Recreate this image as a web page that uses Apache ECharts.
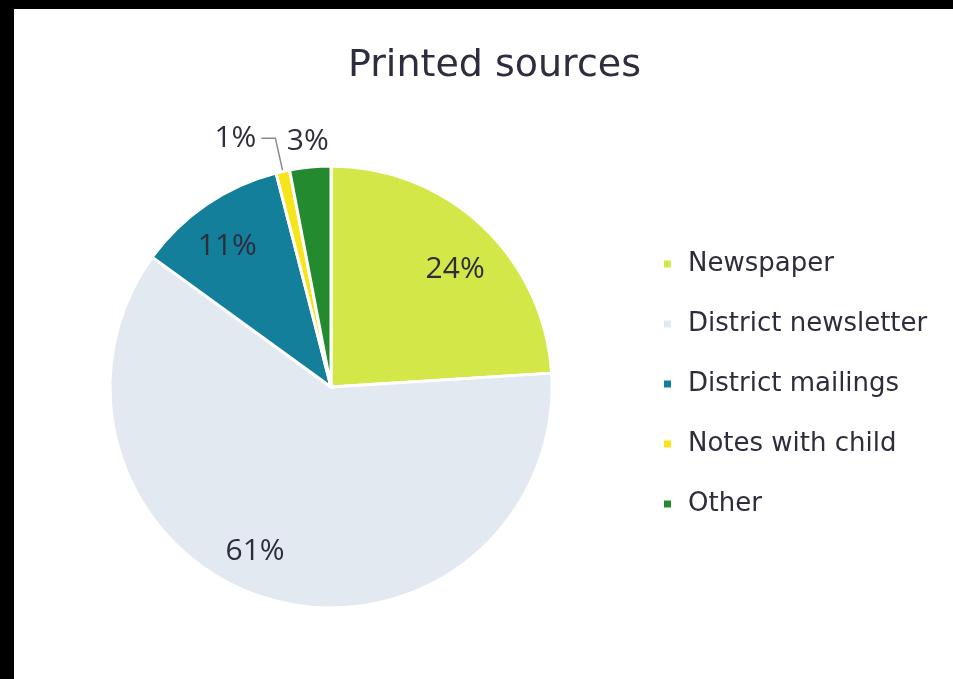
<!DOCTYPE html>
<html>
<head>
<meta charset="utf-8">
<script src="https://cdn.jsdelivr.net/npm/echarts@6/dist/echarts.min.js"></script>
<style>
  html, body { margin:0; padding:0; background:#000; width:953px; height:679px; overflow:hidden; }
  #chart { position:absolute; left:14px; top:9px; width:939px; height:670px; background:#fff; }
</style>
</head>
<body>
<div id="chart"></div>
<script>
// data
const categories = ['Newspaper', 'District newsletter', 'District mailings', 'Notes with child', 'Other']
const shares = [24, 61, 11, 1, 3]
const colors = ['#d4e748', '#e3e9f1', '#137f9b', '#f6e41c', '#238a30']

const textColor = '#2d2d3d'
const font = '"Open Sans", "Noto Sans", sans-serif'
const wideFont = '"DejaVu Sans", sans-serif'
const center = [317, 378]
const R = 221

// nudges for the in-slice labels (Excel puts them slightly off the slice middle)
const innerNudge = [[4, 10], [-27, -4], [-5, 5]]

const chart = echarts.init(document.getElementById('chart'))

function items(fn) {
  return categories.map((name, i) => Object.assign({ name, value: shares[i] }, fn(i)))
}

const option = {
  animation: false,
  backgroundColor: '#fff',
  title: {
    text: 'Printed sources', left: 334, top: 38, padding: 0,
    textStyle: { fontFamily: wideFont, fontSize: 38, fontWeight: 'normal', color: textColor }
  },
  legend: {
    orient: 'vertical', left: 648, top: 240, padding: 0,
    itemWidth: 9, itemHeight: 9, itemGap: 30, icon: 'rect',
    data: categories,
    textStyle: { fontFamily: wideFont, fontSize: 26, color: textColor, lineHeight: 30, padding: [0, 0, 0, 11] }
  },
  series: [
    { // the pie itself, with the only leader-line label (1%)
      type: 'pie', center, radius: R, startAngle: 90, clockwise: true,
      avoidLabelOverlap: false, silent: true,
      itemStyle: { borderColor: '#fff', borderWidth: 3 },
      data: items(i => ({
        itemStyle: { color: colors[i] },
        label: i === 3
          ? { show: true, position: 'outside', formatter: '{c}%', fontFamily: font, fontSize: 30, color: textColor, distanceToLabelLine: 5 }
          : { show: false },
        labelLine: i === 3
          ? { show: true, length: 34, length2: 14, lineStyle: { color: '#8a8a8a', width: 1.5 } }
          : { show: false }
      }))
    },
    { // transparent ring used to place the in-slice labels
      type: 'pie', center, radius: [124, R], startAngle: 90, silent: true,
      avoidLabelOverlap: false,
      itemStyle: { color: 'transparent' },
      labelLine: { show: false },
      labelLayout: p => innerNudge[p.dataIndex] ? { dx: innerNudge[p.dataIndex][0], dy: innerNudge[p.dataIndex][1] } : {},
      data: items(i => ({
        label: { show: i < 3, position: 'inside', formatter: '{c}%', fontFamily: font, fontSize: 30, color: textColor }
      }))
    },
    { // transparent ring outside the pie for the 3% label
      type: 'pie', center, radius: [R + 3, R + 43], startAngle: 90, silent: true,
      avoidLabelOverlap: false,
      itemStyle: { color: 'transparent' },
      labelLine: { show: false },
      data: items(i => ({
        label: { show: i === 4, position: 'inside', formatter: '{c}%', fontFamily: font, fontSize: 30, color: textColor }
      }))
    }
  ]
}

chart.setOption(option)
</script>
</body>
</html>
